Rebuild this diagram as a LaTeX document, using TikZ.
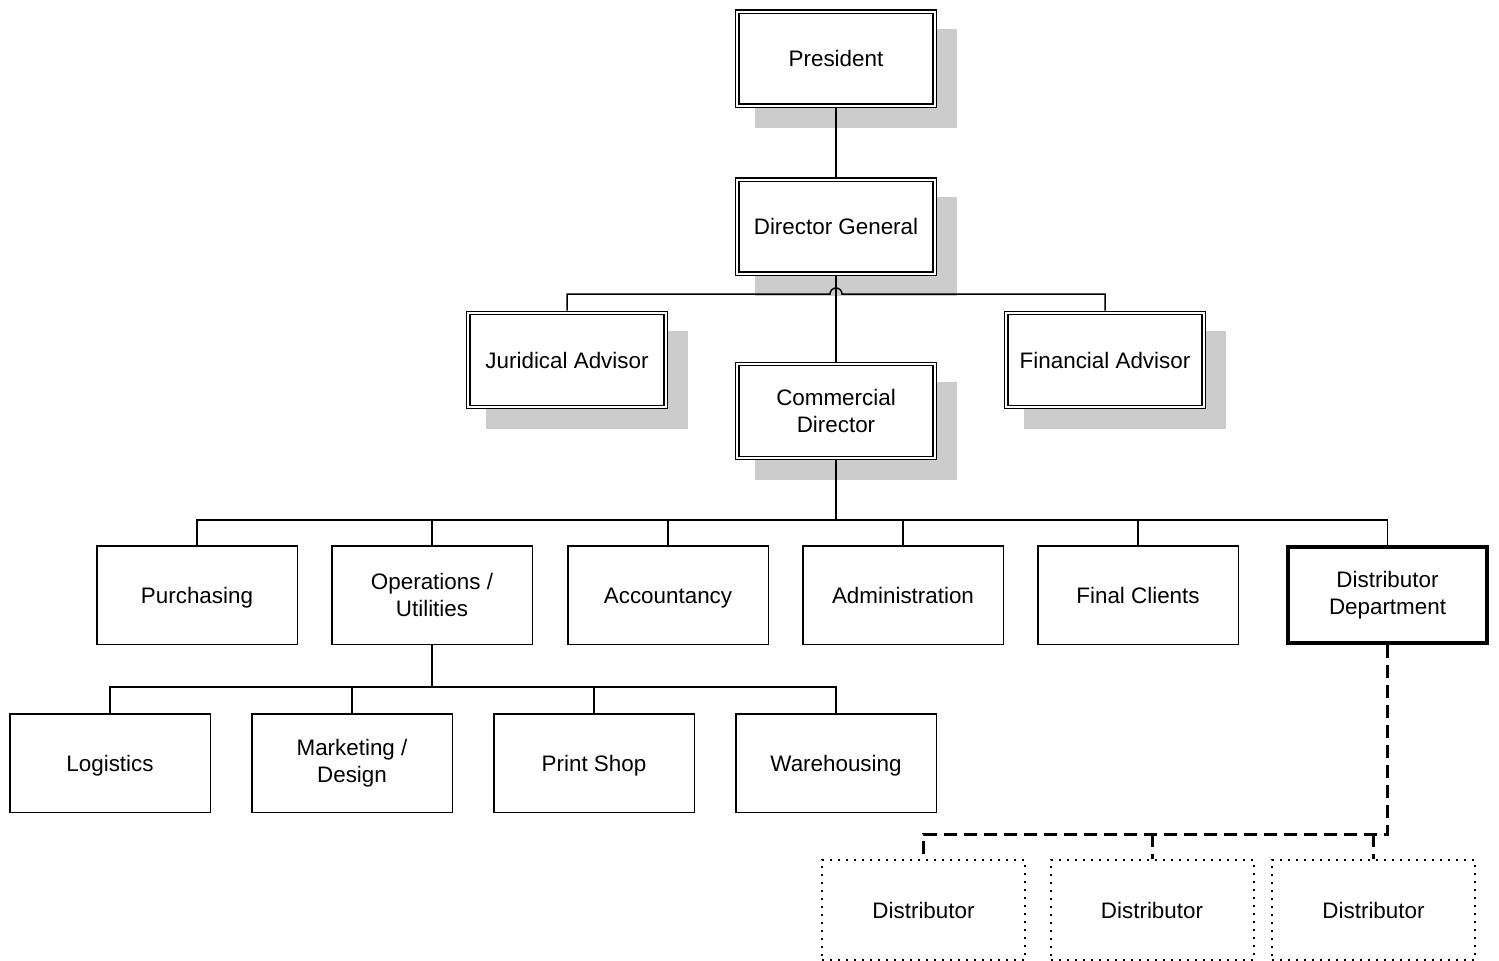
\documentclass[tikz,border=0pt]{standalone}
\usepackage{fontspec}
\setmainfont{Liberation Sans}
\usetikzlibrary{shadows}
\begin{document}
\begin{tikzpicture}[x=0.5pt,y=-0.5pt,
  every node/.style={font=\fontsize{11.2}{13.5}\selectfont, align=center, inner sep=0pt},
  one/.style={text height=8.2pt, text depth=0pt},
  dbox/.style={draw, double=white, double distance=1pt, line width=0.7pt,
    minimum width=98.6pt, minimum height=47pt, fill=white, outer sep=1.2pt,
    general shadow={fill=black!20, draw=black!20, line width=2.4pt, shadow xshift=10pt, shadow yshift=-10pt}},
  sbox/.style={draw, line width=0.75pt, minimum width=100.25pt, minimum height=49.25pt, fill=white},
  tbox/.style={draw, line width=2pt, minimum width=99.5pt, minimum height=48pt, fill=white},
  obox/.style={draw, line width=1pt, dash pattern=on 1pt off 3pt, minimum width=101.5pt, minimum height=50pt},
  conn/.style={draw, line width=0.75pt},
  conn2/.style={draw, line width=1pt},
  dconn/.style={draw, line width=1.5pt, dash pattern=on 6.5pt off 3.5pt}
]
\useasboundingbox (0,0) rectangle (1499,960);

% top
\node[dbox, one] (pres) at (836,58.5) {President};
\node[dbox, one] (dg) at (836,226.5) {Director General};
\node[dbox, one] (ja) at (567,360) {Juridical Advisor};
\node[dbox, one] (fa) at (1105,360) {Financial Advisor};
\node[dbox] (cd) at (836,411) {Commercial\\Director};

% level 2
\node[sbox, one] (pur) at (197,595) {Purchasing};
\node[sbox] (ops) at (432,595) {Operations /\\Utilities};
\node[sbox, one] (acc) at (668,595) {Accountancy};
\node[sbox, one] (adm) at (903,595) {Administration};
\node[sbox, one] (fin) at (1138,595) {Final Clients};
\node[tbox] (dd) at (1387.5,595) {Distributor\\Department};

% level 3
\node[sbox, one] (log) at (110,763) {Logistics};
\node[sbox] (mkt) at (352,763) {Marketing /\\Design};
\node[sbox, one] (prt) at (594,763) {Print Shop};
\node[sbox, one] (war) at (836,763) {Warehousing};

% distributors
\node[obox, one] (d1) at (923.5,910) {Distributor};
\node[obox, one] (d2) at (1152,910) {Distributor};
\node[obox, one] (d3) at (1373.5,910) {Distributor};

% connectors
\coordinate (jmp) at (836,294);
\coordinate (b1) at (836,520);
\coordinate (b2) at (432,687);
\coordinate (b3) at (1387.5,834);

\draw[conn] (pres.south) -- (dg.north);
\draw[conn] (dg.south) -- (cd.north);
\draw[conn] (ja.north) |- ([xshift=-3pt]jmp) arc[start angle=180, end angle=0, radius=3pt] -| (fa.north);

\foreach \n in {pur,ops,acc,adm,fin,dd}
  \draw[conn] (cd.south) -- (b1) -| (\n.north);

\foreach \n in {log,mkt,prt,war}
  \draw[conn2] (ops.south) -- (b2) -| (\n.north);

\draw[dconn] (dd.south) -- (b3) -- (d1.north |- b3) -- (d1.north);
\draw[dconn] (d2.north |- b3) -- (d2.north);
\draw[dconn] (d3.north |- b3) -- (d3.north);
\end{tikzpicture}
\end{document}
